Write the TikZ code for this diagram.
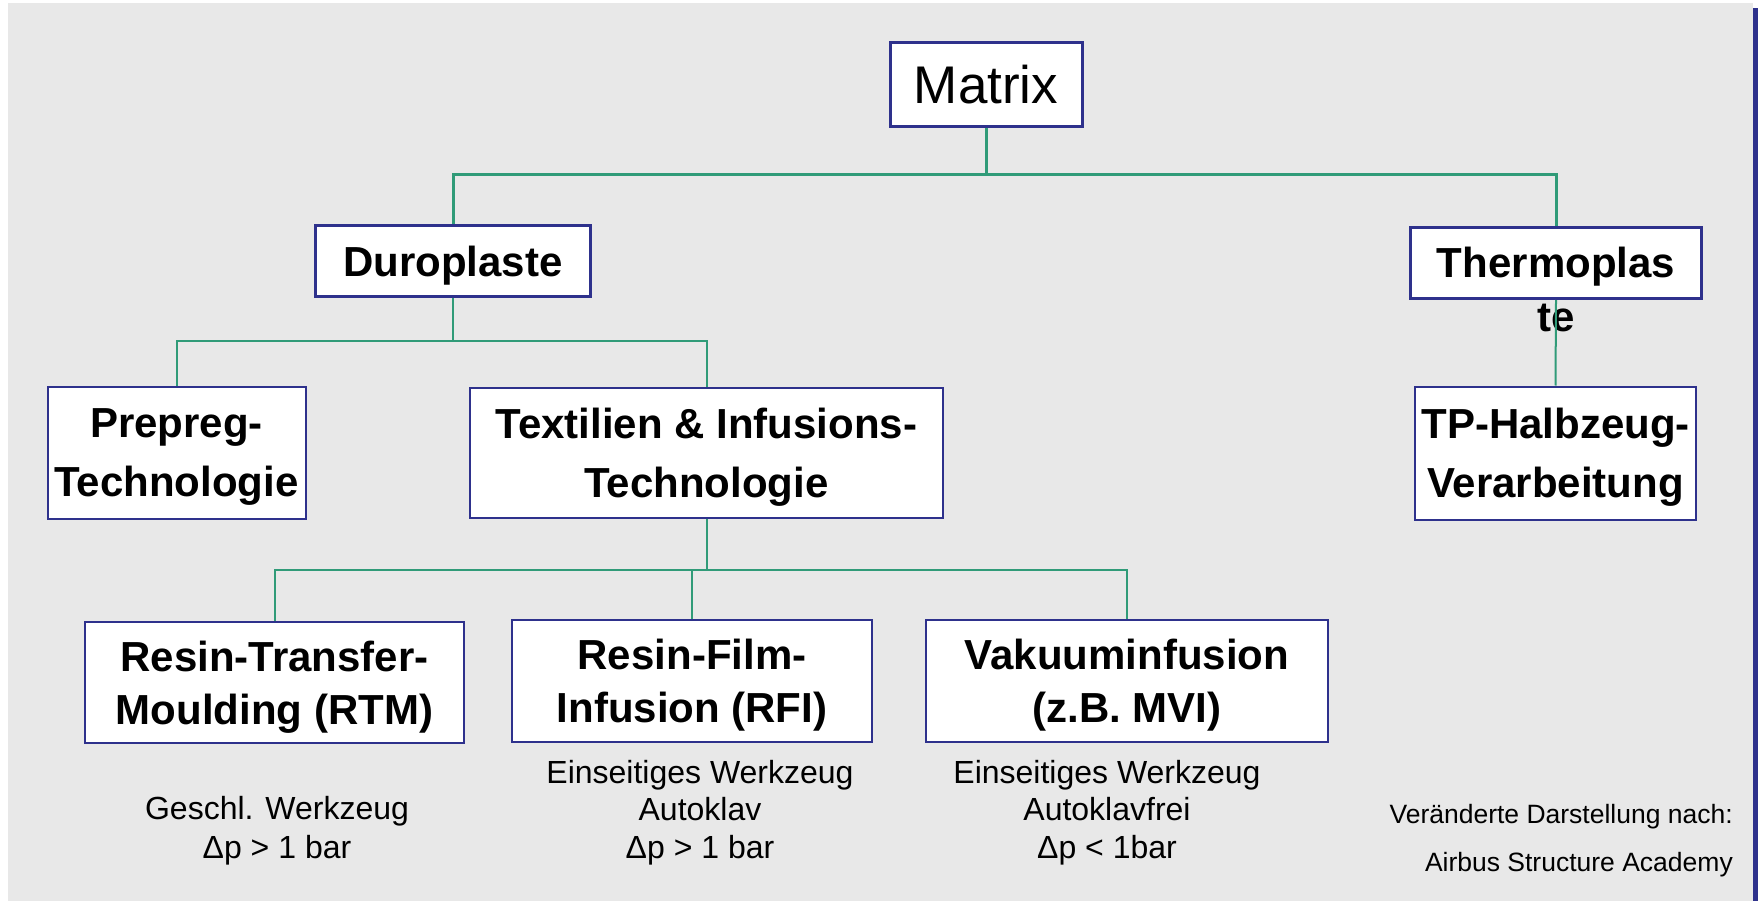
\documentclass[tikz,border=0pt]{standalone}
\usepackage{fontspec}
\setmainfont{Liberation Sans}
\usepackage{tikz}
\usetikzlibrary{calc}
\definecolor{boxblue}{RGB}{46,49,140}
\definecolor{linkgreen}{RGB}{48,155,120}
\definecolor{bggray}{RGB}{232,232,232}
\tikzset{
  box/.style = {draw = boxblue, fill = white, line width = 2pt, inner sep = 0pt, align = center, text depth = 0pt, font = \bfseries\fontsize{42}{59}\selectfont},
  topbox/.style = {box, line width = 3pt},
  lowbox/.style = {box, font = \bfseries\fontsize{42}{53}\selectfont},
  link/.style = {draw = linkgreen, line width = 2pt},
  toplink/.style = {link, line width = 3pt},
  note/.style = {align = center, inner sep = 0pt, font = \fontsize{32}{37.5}\selectfont}
}

\begin{document}
\begin{tikzpicture}[x = 1pt, y = -1pt]
\useasboundingbox (0,0) rectangle (1758,901);
\fill[bggray] (8,3) rectangle (1753,901);
\fill[boxblue] (1753,8) rectangle (1758,901);

\node[topbox, minimum width = 192, minimum height = 84, text depth = {}, font = \fontsize{53}{60}\selectfont] (matrix) at (986,84.5) {Matrix};
\node[topbox, minimum width = 275, minimum height = 71] (duro) at (453,261) {Duroplaste};
\node[topbox, minimum width = 291, minimum height = 71] (thermo) at (1556,263) {};
\node[box, draw = none, fill = none, anchor = north, text depth = {}, font = \bfseries\fontsize{42}{54}\selectfont] (thermotxt) at (1556,246) {Thermoplas\\te};

\node[box, minimum width = 258, minimum height = 132] (prepreg) at (176.5,453) {Prepreg-\\Technologie};
\node[box, minimum width = 473, minimum height = 130] (textil) at (706.5,452.5) {Textilien \& Infusions-\\Technologie};
\node[box, minimum width = 281, minimum height = 133] (tphalb) at (1555.5,453) {TP-Halbzeug-\\Verarbeitung};

\node[lowbox, minimum width = 379, minimum height = 121] (rtm) at (274.5,682.5) {Resin-Transfer-\\Moulding (RTM)};
\node[lowbox, minimum width = 360, minimum height = 122] (rfi) at (692,681) {Resin-Film-\\Infusion (RFI)};
\node[lowbox, minimum width = 402, minimum height = 122] (vakuum) at (1127,681) {Vakuuminfusion\\(z.B. MVI)};

% junctions
\coordinate (j1) at (986,175);
\coordinate (j2) at (453,341);
\coordinate (j3) at (706.5,570);

\draw[toplink] (matrix.south) -- (j1);
\draw[toplink] (duro.north) |- (j1) -| (thermo.north);
\draw[link] (duro.south) -- (j2);
\draw[link] (prepreg.north) |- (j2) -| (textil.north);
\draw[link] (thermo.south) -- (tphalb.north);
\draw[link] (textil.south) -- (j3);
\draw[link] (rtm.north) |- (j3) -| (vakuum.north);
\draw[link] (rfi.north) -- (rfi.north |- j3);

\node[note, anchor = north, font = \fontsize{32}{39}\selectfont] (rtmnote) at (277,796) {Geschl. Werkzeug\\Δp > 1 bar};
\node[note, anchor = north] (rfinote) at (700,760) {Einseitiges Werkzeug\\Autoklav\\Δp > 1 bar};
\node[note, anchor = north] (vakuumnote) at (1107,760) {Einseitiges Werkzeug\\Autoklavfrei\\Δp < 1bar};
\node[note, anchor = north east, align = right, font = \fontsize{26.5}{48}\selectfont] (quelle) at (1733,804) {Veränderte Darstellung nach:\\Airbus Structure Academy};
\end{tikzpicture}
\end{document}
